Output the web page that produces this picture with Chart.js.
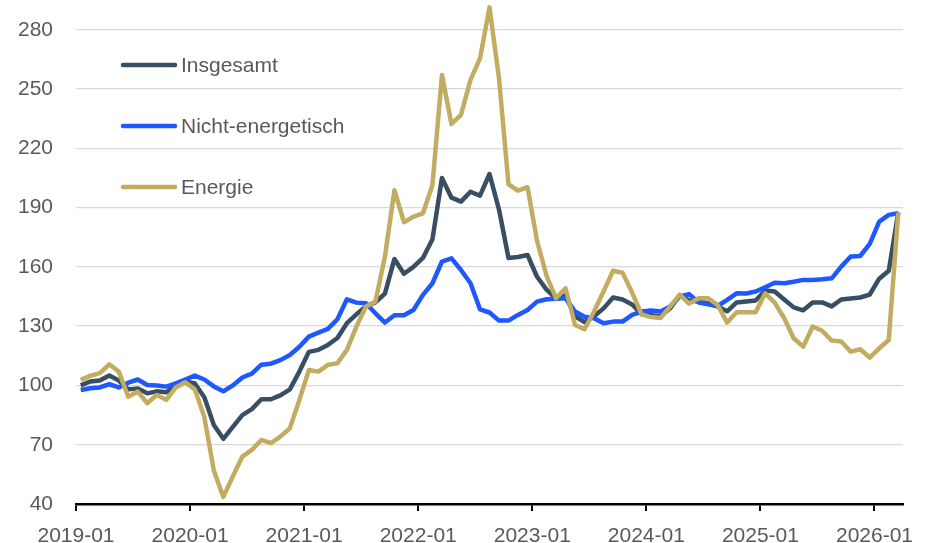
<!DOCTYPE html>
<html>
<head>
<meta charset="utf-8">
<script src="https://cdn.jsdelivr.net/npm/chart.js@4"></script>
<style>
  html, body { margin: 0; padding: 0; background: #fff; }
  #wrap { width: 927px; height: 543px; }
</style>
</head>
<body>
<div id="wrap"><canvas id="chart" width="927" height="543"></canvas></div>
<script>
// monthly values, 2019-01 .. 2026-03
const insgesamt = [
  100, 102, 102.5, 105, 102.5, 98, 98.5, 96, 97, 96.5, 100, 102,
  101, 94, 80, 73, 79, 85, 88, 93, 93, 95, 98, 107,
  117, 118, 120.5, 124, 131.5, 136, 140, 142, 146.5, 164, 156.5, 160,
  164.5, 174, 205, 195, 193, 198, 196, 207, 189, 164.5, 165, 166,
  155, 148.5, 144, 145.5, 135, 132, 135, 139, 144.5, 143.5, 141, 136,
  135.5, 135, 139, 145.5, 143, 142.5, 141.5, 140, 137.5, 142, 142.5, 143,
  148, 147.5, 143.5, 139.5, 138, 142, 142, 140, 143.5, 144, 144.5, 146,
  154, 158, 187.5
];
const nichtEnergetisch = [
  97.7, 98.6, 99, 100.6, 99, 101.4, 103, 100.2, 100, 99.4, 101, 103,
  105, 103, 99.5, 97, 100, 104, 106, 110.5, 111, 112.8, 115.4, 119.6,
  124.7, 126.7, 128.6, 133.5, 143.6, 141.9, 141.6, 136.5, 131.8, 135.5, 135.5, 138.2,
  145.8, 151.7, 162.7, 164.3, 158.4, 151.7, 138.5, 136.9, 132.8, 132.8, 135.7, 138.2,
  142.4, 143.6, 143.9, 144.1, 137.4, 134.8, 134, 131.5, 132.3, 132.3, 135.7, 137.4,
  137.9, 137.4, 139.9, 145, 146.2, 142, 141, 140.2, 143.3, 146.6, 146.5, 147.5,
  149.7, 152, 151.7, 152.5, 153.4, 153.4, 153.7, 154.2, 160.1, 165.2, 165.5, 171.6,
  182.9, 186.3, 187.1
];
const energie = [
  102.8, 104.8, 106.2, 110.7, 107, 94.3, 96.9, 91, 95.2, 92.7, 99, 101.6,
  98, 84, 57, 43.6, 54, 64, 67.4, 72.4, 70.8, 74.1, 78.3, 92.7,
  107.8, 107, 110.4, 111.2, 118, 129.8, 139.9, 142.4, 165.2, 198.8, 182.6, 185.4,
  187.1, 201.4, 257.1, 232.3, 236.9, 254.6, 265.5, 291.3, 255.4, 201.8, 198.6, 200.3,
  173.2, 155.5, 144.1, 149.2, 130.6, 128.4, 137.4, 147.5, 158, 157, 147, 136,
  134.6, 134.1, 139.9, 145.9, 141.4, 144.1, 144.1, 140.7, 131.8, 137, 137, 137,
  146.6, 141.9, 134, 123.9, 119.6, 129.8, 127.7, 122.7, 122.2, 117.1, 118.3, 114.1,
  118.8, 123, 187.4
];
const seriesNames = ['Insgesamt', 'Nicht-energetisch', 'Energie'];
const seriesColors = ['#374e63', '#2058ff', '#c2ac61'];
const xTickLabels = ['2019-01', '2020-01', '2021-01', '2022-01', '2023-01', '2024-01', '2025-01', '2026-01'];
const yTicks = [40, 70, 100, 130, 160, 190, 220, 250, 280];

// months sit in the middle of their slot, year ticks on slot borders
function toPoints(values) {
  return values.map((v, i) => ({ x: i + 0.5, y: v }));
}

Chart.defaults.font.family = "'Liberation Sans', Arial, sans-serif";
Chart.defaults.font.size = 21;
Chart.defaults.color = '#595959';

const insideLegend = {
  id: 'insideLegend',
  afterDatasetsDraw(chart) {
    const ctx = chart.ctx;
    ctx.save();
    seriesNames.forEach((name, i) => {
      const y = 65 + i * 61;
      ctx.strokeStyle = seriesColors[i];
      ctx.lineWidth = 4.5;
      ctx.lineCap = 'round';
      ctx.beginPath();
      ctx.moveTo(123, y);
      ctx.lineTo(175, y);
      ctx.stroke();
      ctx.fillStyle = '#595959';
      ctx.font = "21px 'Liberation Sans', Arial, sans-serif";
      ctx.textBaseline = 'middle';
      ctx.textAlign = 'left';
      ctx.fillText(name, 181, y + 1);
    });
    ctx.restore();
  }
};

const allSeries = [insgesamt, nichtEnergetisch, energie];

new Chart(document.getElementById('chart'), {
  type: 'line',
  data: {
    datasets: allSeries.map((vals, i) => ({
      label: seriesNames[i],
      data: toPoints(vals),
      borderColor: seriesColors[i],
      backgroundColor: seriesColors[i],
      borderWidth: 4.5,
      pointRadius: 0,
      tension: 0,
      borderJoinStyle: 'round',
      clip: false,
      order: 3 - i
    }))
  },
  options: {
    responsive: false,
    animation: false,
    devicePixelRatio: 1,
    layout: { padding: { top: 6, right: 24, left: 0, bottom: 0 } },
    plugins: {
      legend: { display: false },
      tooltip: { enabled: false }
    },
    scales: {
      x: {
        type: 'linear',
        min: 0,
        max: 87,
        afterBuildTicks: scale => {
          scale.ticks = xTickLabels.map((_, i) => ({ value: i * 12 }));
        },
        afterFit: scale => {
          scale.height = 39;
          scale.paddingLeft = 0;
          scale.paddingRight = 0;
        },
        ticks: {
          autoSkip: false,
          maxRotation: 0,
          padding: 13,
          callback: (value, index) => xTickLabels[index]
        },
        grid: {
          drawOnChartArea: false,
          drawTicks: true,
          tickLength: 7,
          color: '#000',
          lineWidth: 2
        },
        border: { display: true, color: '#000', width: 2.5 }
      },
      y: {
        min: 40,
        max: 292,
        afterBuildTicks: scale => {
          scale.ticks = yTicks.map(v => ({ value: v }));
        },
        afterFit: scale => {
          scale.width = 76;
          scale.paddingTop = 0;
          scale.paddingBottom = 0;
        },
        ticks: { padding: 23 },
        grid: {
          drawTicks: false,
          color: ctx => (ctx.tick && ctx.tick.value === 40 ? 'rgba(0,0,0,0)' : '#d9d9d9'),
          lineWidth: 1.3
        },
        border: { display: false }
      }
    }
  },
  plugins: [insideLegend]
});
</script>
</body>
</html>
